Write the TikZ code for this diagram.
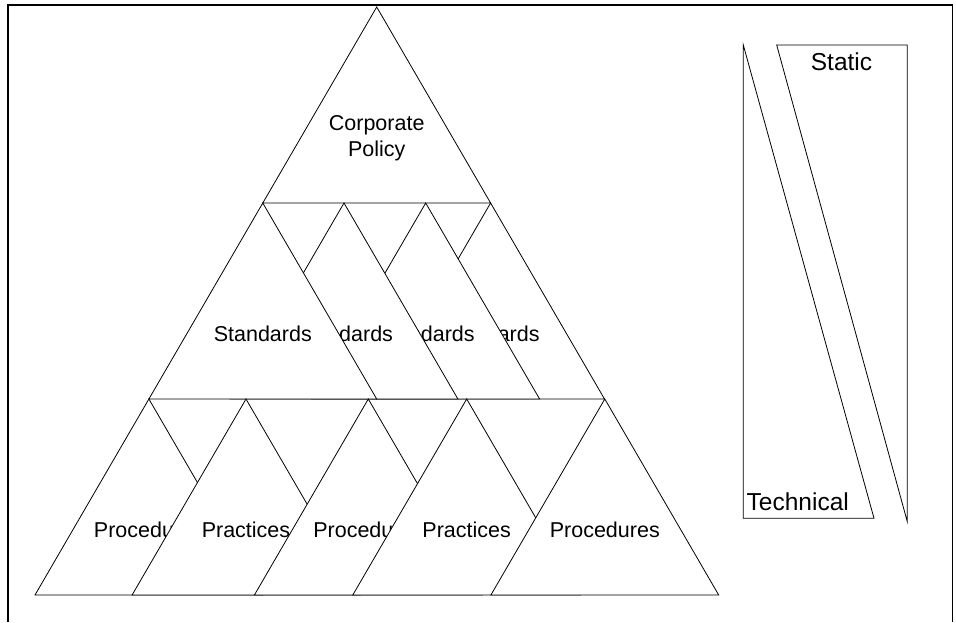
\documentclass[tikz,border=0pt]{standalone}
\usepackage{fontspec}
\setmainfont{Liberation Sans}
\usepackage{tikz}

\begin{document}
\begin{tikzpicture}[
    x=1pt, y=-1pt,
    layer/.style={draw=black, fill=white, line width=0.8pt},
    lbl/.style={font=\fontsize{21.5}{26}\selectfont, inner sep=0pt, align=center},
    side/.style={font=\fontsize{24.5}{29}\selectfont, inner sep=0pt},
    frame/.style={draw=black, line width=1.2pt}
  ]
    \useasboundingbox (0,0) rectangle (956,622);
    \draw[frame] (8,622) -- (8,5) -- (952.5,5) -- (952.5,622);

    % top of the pyramid
    \filldraw[layer] (376.7,7) -- ++(-113.9,196) -- ++(227.8,0) -- cycle;
    \node[lbl] (corp) at (376.7,138) {Corporate\\Policy};

    % middle row, back to front
    \filldraw[layer] (490.6,203) -- ++(-113.9,196) -- ++(227.8,0) -- cycle;
    \node[lbl] (std4) at (490.6,333.5) {Standards};
    \filldraw[layer] (425.7,203) -- ++(-113.9,196) -- ++(227.8,0) -- cycle;
    \node[lbl] (std3) at (425.7,333.5) {Standards};
    \filldraw[layer] (344,203) -- ++(-113.9,196) -- ++(227.8,0) -- cycle;
    \node[lbl] (std2) at (344,333.5) {Standards};
    \filldraw[layer] (262.8,203) -- ++(-113.9,196) -- ++(227.8,0) -- cycle;
    \node[lbl] (std1) at (262.8,333.5) {Standards};

    % bottom row, left to right
    \filldraw[layer] (148.9,399) -- ++(-113.9,196) -- ++(227.8,0) -- cycle;
    \node[lbl] (proc1) at (148.9,530) {Procedures};
    \filldraw[layer] (246,399) -- ++(-113.9,196) -- ++(227.8,0) -- cycle;
    \node[lbl] (prac2) at (246,530) {Practices};
    \filldraw[layer] (368.3,399) -- ++(-113.9,196) -- ++(227.8,0) -- cycle;
    \node[lbl] (proc3) at (368.3,530) {Procedures};
    \filldraw[layer] (466.7,399) -- ++(-113.9,196) -- ++(227.8,0) -- cycle;
    \node[lbl] (prac4) at (466.7,530) {Practices};
    \filldraw[layer] (604.8,399) -- ++(-113.9,196) -- ++(227.8,0) -- cycle;
    \node[lbl] (proc5) at (604.8,530) {Procedures};

    % scale on the right
    \draw[layer] (743.3,45) -- (743.3,518.3) -- (874,518.3) -- cycle;
    \node[side, anchor=west] (tech) at (746.5,502) {Technical};
    \draw[layer] (776.7,45) -- (907.3,45) -- (907.3,521.7) -- cycle;
    \node[side] (static) at (841.5,62) {Static};
\end{tikzpicture}
\end{document}
